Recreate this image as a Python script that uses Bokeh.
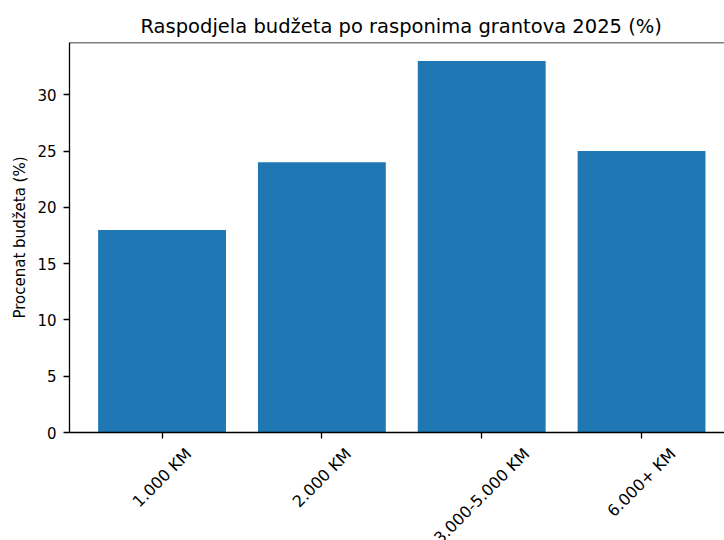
import math
from bokeh.plotting import figure
from bokeh.layouts import column
from bokeh.models import Range1d, FixedTicker, Span
from bokeh.embed import file_html
from bokeh.resources import INLINE

categories = ["1.000 KM", "2.000 KM", "3.000-5.000 KM", "6.000+ KM"]
budget_share = [18, 24, 33, 25]
y_ticks = [0, 5, 10, 15, 20, 25, 30]

title_text = "Raspodjela budžeta po rasponima grantova 2025 (%)"
y_label = "Procenat budžeta (%)"

FONT = "DejaVu Sans"
BAR_COLOR = "#1f77b4"
TICK_FONT_PX = 15
XLAB_FONT_PX = 16

# approximate DejaVu Sans advance widths (em/2048) used to centre rotated labels
ADV = {"0": 1303, "1": 1303, "2": 1303, "3": 1303, "4": 1303, "5": 1303,
       "6": 1303, "7": 1303, "8": 1303, "9": 1303, ".": 651, " ": 651,
       "K": 1343, "M": 1767, "-": 739, "+": 1716}

xs = list(range(len(categories)))
y_top = max(budget_share) * 1.05
x_rng = Range1d(-0.579, 3.519)

W = 724
H_MAIN = 445
H_LAB = 95

p = figure(
    width=W, height=H_MAIN,
    x_range=x_rng, y_range=Range1d(0, y_top),
    output_backend="svg", toolbar_location=None,
    min_border_left=69, min_border_right=0,
    min_border_top=42, min_border_bottom=13,
)
p.vbar(x=xs, top=budget_share, width=0.8, color=BAR_COLOR, line_color=None)

p.outline_line_color = None
p.grid.visible = False

p.add_layout(Span(location=y_top, dimension="width", line_color="black", line_width=1.3))

p.title.text = title_text
p.title.align = "left"
p.title.offset = 71
p.title.text_font = FONT
p.title.text_font_size = "19.5px"
p.title.text_font_style = "normal"
p.title.text_color = "black"

ya = p.yaxis[0]
ya.ticker = FixedTicker(ticks=y_ticks)
ya.axis_label = y_label
ya.axis_label_text_font = FONT
ya.axis_label_text_font_size = f"{TICK_FONT_PX}px"
ya.axis_label_text_font_style = "normal"
ya.axis_label_text_color = "black"
ya.axis_label_standoff = 5
ya.major_label_text_font = FONT
ya.major_label_text_font_size = f"{TICK_FONT_PX}px"
ya.major_label_text_color = "black"
ya.major_label_standoff = 7
ya.major_tick_in = 0
ya.major_tick_out = 6
ya.minor_tick_in = 0
ya.minor_tick_out = 0
ya.axis_line_color = "black"
ya.axis_line_width = 1.3
ya.major_tick_line_color = "black"
ya.major_tick_line_width = 1.3

xa = p.xaxis[0]
xa.ticker = FixedTicker(ticks=xs)
xa.major_label_text_font_size = "0px"
xa.major_label_text_color = None
xa.major_tick_in = 0
xa.major_tick_out = 6
xa.minor_tick_in = 0
xa.minor_tick_out = 0
xa.axis_line_color = "black"
xa.axis_line_width = 1.3
xa.major_tick_line_color = "black"
xa.major_tick_line_width = 1.3

# rotated category labels, centred under their ticks (matplotlib style)
p2 = figure(
    width=W, height=H_LAB,
    x_range=x_rng, y_range=Range1d(-H_LAB, 0),
    output_backend="svg", toolbar_location=None,
    x_axis_location=None, y_axis_location=None,
    min_border_left=69, min_border_right=0,
    min_border_top=0, min_border_bottom=0,
)
p2.outline_line_color = None
p2.grid.visible = False

text_h = 16.0
label_y = []
for cat in categories:
    w = sum(ADV.get(c, 1300) for c in cat) / 2048 * XLAB_FONT_PX
    label_y.append(-0.354 * (w + text_h))

p2.text(x=xs, y=label_y, text=categories, angle=math.pi / 4,
        text_align="center", text_baseline="middle",
        text_font={"value": FONT}, text_font_size={"value": f"{XLAB_FONT_PX}px"},
        text_color="black")

layout = column(p, p2, spacing=0)
open("out.html", "w").write(file_html(layout, INLINE))
